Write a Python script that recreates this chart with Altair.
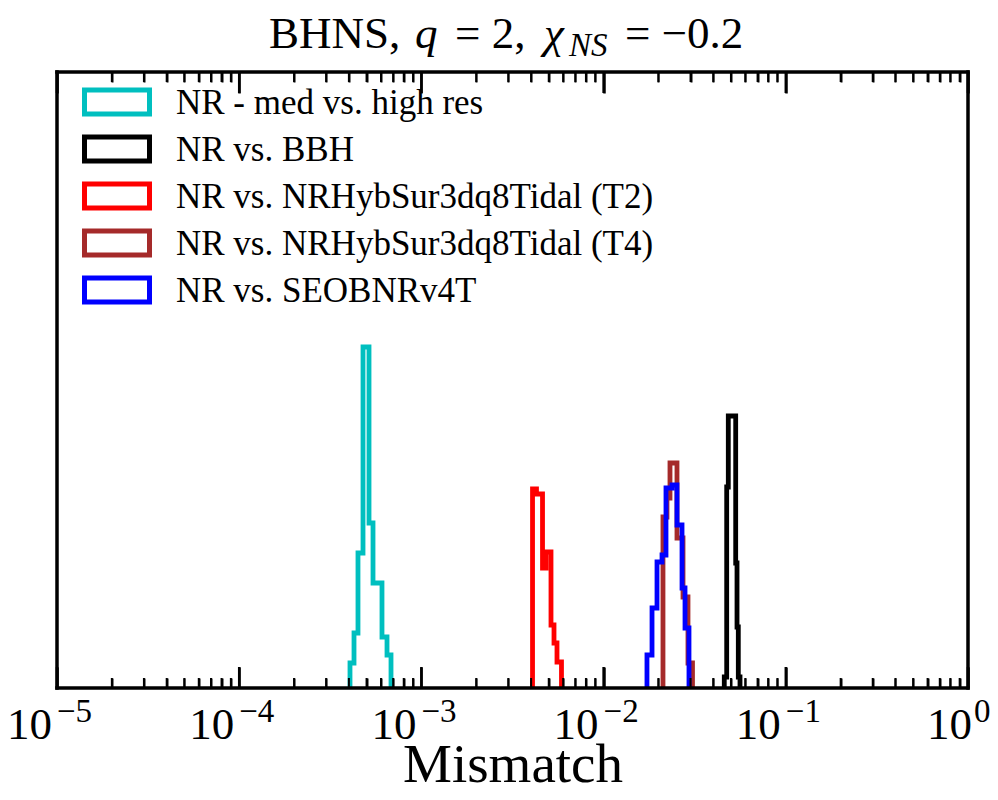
import altair as alt
import pandas as pd

FONT = "Liberation Serif"

series_names = [
    "NR - med vs. high res",
    "NR vs. BBH",
    "NR vs. NRHybSur3dq8Tidal (T2)",
    "NR vs. NRHybSur3dq8Tidal (T4)",
    "NR vs. SEOBNRv4T",
]
series_colors = ["#00bfbf", "#000000", "#ff0000", "#a52a2a", "#0000ff"]

# bin edges (mismatch) and bin heights (arbitrary density units)
cyan_edges = [4.056e-4, 4.267e-4, 4.487e-4, 4.781e-4, 5.158e-4, 5.425e-4, 6.077e-4, 6.475e-4, 6.811e-4]
cyan_heights = [2.5, 5.5, 13.5, 34.1, 16.5, 10.5, 5.1, 3.3]

black_edges = [0.04596, 0.04738, 0.04835, 0.05309, 0.05398, 0.05487, 0.05606]
black_heights = [1.1, 20.1, 27.2, 12.5, 6.1, 1.1]

red_edges = [4.073e-3, 4.282e-3, 4.621e-3, 4.830e-3, 5.144e-3, 5.343e-3, 5.549e-3, 5.873e-3]
red_heights = [19.9, 19.4, 12.0, 13.6, 6.3, 4.5, 2.6]

brown_edges = [0.02118, 0.02228, 0.02314, 0.02528, 0.02728, 0.02905, 0.03075]
brown_heights = [17.1, 19.0, 22.5, 15.0, 9.1, 2.5]

blue_edges = [0.01730, 0.01844, 0.01964, 0.02092, 0.02200, 0.02374, 0.02528, 0.02694, 0.02798, 0.02942]
blue_heights = [3.3, 8.0, 12.6, 13.3, 20.0, 20.3, 16.3, 10.0, 6.0]

hist_edges = [cyan_edges, black_edges, red_edges, brown_edges, blue_edges]
hist_heights = [cyan_heights, black_heights, red_heights, brown_heights, blue_heights]

label_values = [1e-5, 1e-4, 1e-3, 1e-2, 1e-1, 1.0]
label_exponents = ["\u22125", "\u22124", "\u22123", "\u22122", "\u22121", "0"]
tick_major = [1e-5, 1e-4, 1e-3, 1e-2, 1e-1, 1.0]
tick_minor = [k * d for d in [1e-5, 1e-4, 1e-3, 1e-2, 1e-1] for k in range(2, 10)]

title_main = "BHNS,"
title_q = "q"
title_mid = "= 2,"
title_chi = "\u03c7"
title_sub = "NS"
title_end = "= \u22120.2"

W, H = 911, 616
YMAX = 61.6

# ---- histogram outline table (step outlines) ----
rows = []
for name, edges, heights in zip(series_names, hist_edges, hist_heights):
    i = 0
    rows.append({"series": name, "m": edges[0], "h": 0.0, "idx": i}); i += 1
    for e, hgt in zip(edges[:-1], heights):
        rows.append({"series": name, "m": e, "h": hgt, "idx": i}); i += 1
    rows.append({"series": name, "m": edges[-1], "h": 0.0, "idx": i})
hist_df = pd.DataFrame(rows)

major_df = pd.DataFrame({"m": tick_major})
minor_df = pd.DataFrame({"m": tick_minor})

xscale = alt.Scale(type="log", domain=[1e-5, 1.0], nice=False)
yscale = alt.Scale(domain=[0, YMAX], nice=False, zero=False)
color = alt.Color(
    "series:N",
    scale=alt.Scale(domain=series_names, range=series_colors),
    legend=None,
)
xaxis = alt.Axis(
    title="Mismatch", labels=False, ticks=False, domain=False, grid=False,
    titleFont=FONT, titleFontSize=55, titleFontWeight="normal",
    titleColor="black", titlePadding=50,
)

def X():
    return alt.X("m:Q", scale=xscale, axis=xaxis)

main = []
for name in series_names:
    main.append(
        alt.Chart(hist_df)
        .transform_filter(alt.datum.series == name)
        .mark_line(interpolate="step-after", strokeWidth=4.8, strokeJoin="miter", clip=True)
        .encode(
            x=X(),
            y=alt.Y("h:Q", scale=yscale, axis=None),
            color=color,
            order=alt.Order("idx:Q"),
        )
    )

# ---- frame ----
one = alt.Data(values=[{"k": 0}])
def frame(**enc):
    return alt.Chart(one).mark_rule(color="black", strokeWidth=3.5, strokeCap="square").encode(**enc)

main += [
    frame(x=alt.value(0), x2=alt.value(W), y=alt.value(H)),
    frame(x=alt.value(0), x2=alt.value(W), y=alt.value(0)),
    frame(x=alt.value(0), y=alt.value(0), y2=alt.value(H)),
    frame(x=alt.value(W), y=alt.value(0), y2=alt.value(H)),
]

# ---- tick labels 10^n ----
lab_df = pd.DataFrame({"m": label_values, "e": label_exponents})
neg = alt.datum.e != "0"
zero = alt.datum.e == "0"
for cond, dx_base, dx_exp in [(neg, -5, 0), (zero, 4, 6)]:
    main.append(
        alt.Chart(lab_df).transform_filter(cond)
        .mark_text(align="right", baseline="alphabetic", font=FONT, fontSize=45, dx=dx_base, color="black")
        .encode(x=X(), y=alt.value(H + 51), text=alt.value("10"))
    )
    main.append(
        alt.Chart(lab_df).transform_filter(cond)
        .mark_text(align="left", baseline="alphabetic", font=FONT, fontSize=33, dx=dx_exp, color="black")
        .encode(x=X(), y=alt.value(H + 34), text="e:N")
    )

# ---- title pieces ----
def tpiece(txt, x, y, size, style="normal"):
    return alt.Chart(alt.Data(values=[{"t": txt}])).mark_text(
        align="left", baseline="alphabetic", font=FONT, fontSize=size,
        fontStyle=style, color="black",
    ).encode(x=alt.value(x), y=alt.value(y), text="t:N")

tx0 = 212
ty = -24
main += [
    tpiece(title_main, tx0, ty, 45),
    tpiece(title_q, tx0 + 146, ty, 45, "italic"),
    tpiece(title_mid, tx0 + 186, ty, 45),
    tpiece(title_chi, tx0 + 275, ty, 45, "italic"),
    tpiece(title_sub, tx0 + 300, ty + 8, 33, "italic"),
    tpiece(title_end, tx0 + 356, ty, 45),
]

# ---- legend (drawn as marks) ----
leg_df = pd.DataFrame({"series": series_names})
leg_y = alt.Y("series:N", scale=alt.Scale(type="point", domain=series_names, range=[30, 218], padding=0), axis=None)
legend_layers = [
    alt.Chart(leg_df).mark_point(
        shape="M-1,-0.37H1V0.37H-1Z", size=4225, filled=False, strokeWidth=5, opacity=1
    ).encode(x=alt.value(60), y=leg_y, color=color),
    alt.Chart(leg_df).mark_text(
        align="left", baseline="middle", font=FONT, fontSize=35, color="black", dy=1
    ).encode(x=alt.value(119), y=leg_y, text="series:N"),
]

# ---- inward ticks: extra axes moved inside the frame ----
def tick_axis_layer(df, orient, length, width):
    ax = alt.Axis(
        orient=orient, offset=-length, tickSize=length, tickWidth=width,
        tickColor="black", values=list(df["m"]), labels=False, domain=False,
        grid=False, title="", ticks=True,
    )
    return alt.Chart(df).mark_rule(color="black", strokeWidth=width).encode(
        x=alt.X("m:Q", scale=xscale, axis=ax),
        y=alt.value(H if orient == "bottom" else 0),
        y2=alt.value(H - length if orient == "bottom" else length),
    )

tick_layers = [
    tick_axis_layer(major_df, "bottom", 21, 2.5),
    tick_axis_layer(minor_df, "bottom", 10, 2),
    tick_axis_layer(major_df, "top", 21, 2.5),
    tick_axis_layer(minor_df, "top", 10, 2),
]

chart = (
    alt.layer(alt.layer(*main), alt.layer(*legend_layers), *tick_layers)
    .resolve_scale(y="independent")
    .resolve_axis(x="independent")
    .properties(
        width=W, height=H,
        view=alt.ViewBackground(stroke="transparent"),
        autosize=alt.AutoSizeParams(type="none"),
        padding={"left": 49, "top": 64, "right": 22, "bottom": 112},
    )
)

chart.save("out.html", embed_options={"renderer": "svg", "actions": False})
